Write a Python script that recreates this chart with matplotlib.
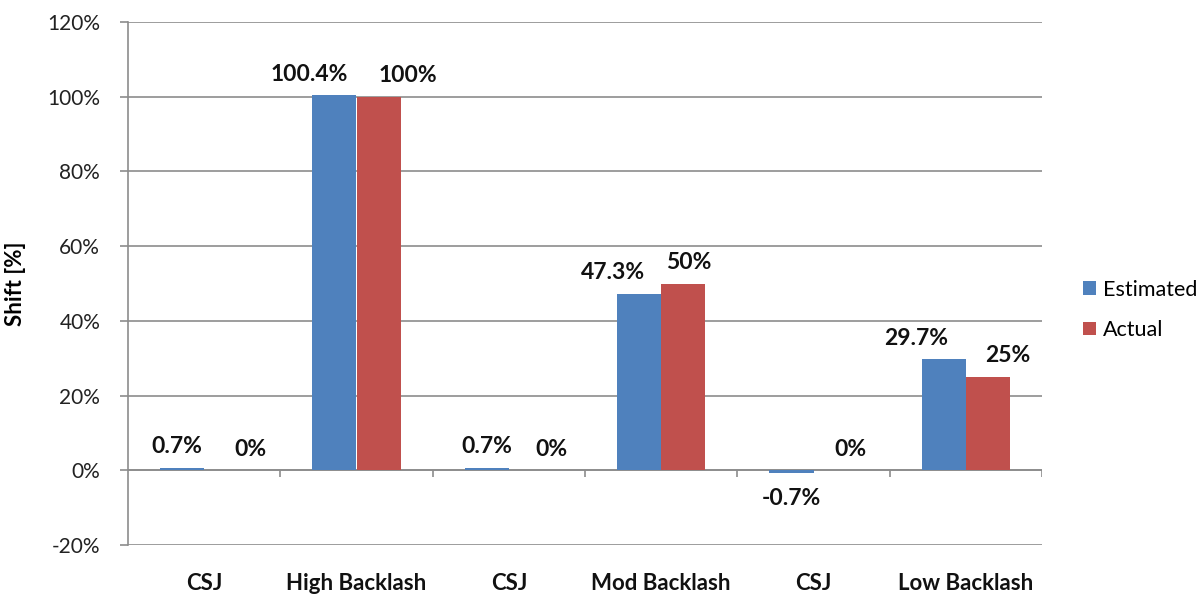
import matplotlib
matplotlib.use('Agg')
import matplotlib.pyplot as plt
import numpy as np

# Данные
categories = ['CSJ', 'High Backlash', 'CSJ', 'Mod Backlash', 'CSJ', 'Low Backlash']
estimated = [0.7, 100.4, 0.7, 47.3, -0.7, 29.7]
actual = [0, 100, 0, 50, 0, 25]
y_ticks = [-20, 0, 20, 40, 60, 80, 100, 120]

# Сдвиг подписей по горизонтали (пиксели), как в исходнике
est_label_dx = [-5, -25, 0, -26, 0, -28]
act_label_dx = [24, 29, 21, 6, 15, 20]

blue = '#4F81BD'
red = '#C0504D'
grid_color = '#8C8C8C'
font = 'Lato'

plt.rcParams['font.family'] = [font, 'DejaVu Sans']

fig = plt.figure(figsize=(12, 5.96), dpi=100)
ax = fig.add_axes([128 / 1200, 1 - 545 / 596, (1042 - 128) / 1200, (545 - 22) / 596])

x = np.arange(len(categories)) + 0.5
w = 44 / 152
ax.bar(x - w / 2, estimated, w, color=blue, label='Estimated', zorder=3)
ax.bar(x + w / 2, actual, w, color=red, label='Actual', zorder=3)

ax.set_xlim(0, len(categories))
ax.set_ylim(-20, 120)
ax.set_yticks(y_ticks)
ax.set_yticklabels([f'{t}%' for t in y_ticks], fontsize=15, color='#222222')
ax.yaxis.grid(True, color=grid_color, linewidth=1.2, zorder=0)
ax.tick_params(axis='y', length=6, width=1.2, color=grid_color, pad=14)

ax.set_xticks(x)
ax.set_xticklabels(categories, fontsize=16, fontweight='bold', color='#111111')
ax.tick_params(axis='x', length=0, pad=20)

for s in ['top', 'right', 'bottom']:
    ax.spines[s].set_visible(False)
ax.spines['left'].set_color(grid_color)
ax.spines['left'].set_linewidth(1.2)

# Ось категорий на нуле с метками
ax.axhline(0, color=grid_color, linewidth=1.2, zorder=2)
ax.vlines(np.arange(1, len(categories) + 1), -1.9, 0, color=grid_color, linewidth=1.2, zorder=2)

# Подписи значений
for xi, v, dx in zip(x - w / 2, estimated, est_label_dx):
    dy = 21 if v >= 0 else -26
    ax.annotate(f'{v:g}%', (xi, v), xytext=(dx, dy), textcoords='offset pixels',
                ha='center', va='center', fontsize=16.5, fontweight='bold', color='#111111')
for xi, v, dx in zip(x + w / 2, actual, act_label_dx):
    dy = 21 if v >= 0 else -26
    ax.annotate(f'{v:g}%', (xi, v), xytext=(dx, dy), textcoords='offset pixels',
                ha='center', va='center', fontsize=16.5, fontweight='bold', color='#111111')

ax.set_ylabel('Shift [%]', fontsize=16, fontweight='bold')
ax.yaxis.set_label_coords(-0.112, 0.5)

fig.legend(loc='center left', bbox_to_anchor=(1064 / 1200, 1 - 310 / 596), frameon=False,
           fontsize=15.5, handlelength=0.6, handleheight=0.6, handletextpad=0.3,
           labelspacing=0.95)

fig.savefig('out.png', dpi=100)
